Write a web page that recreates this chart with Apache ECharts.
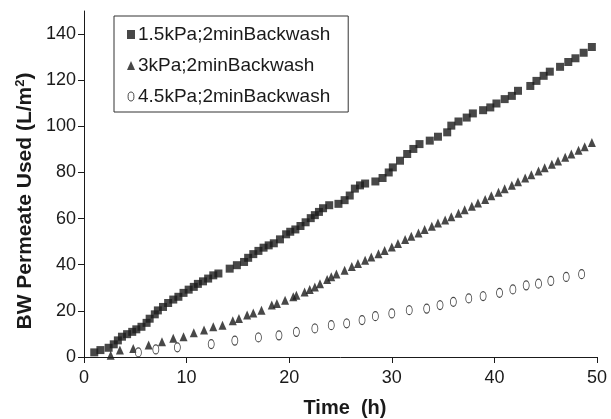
<!DOCTYPE html>
<html>
<head>
<meta charset="utf-8">
<script src="https://cdn.jsdelivr.net/npm/echarts@6/dist/echarts.min.js"></script>
<style>
html,body{margin:0;padding:0;background:#fff;}
#chart{width:611px;height:419px;}
</style>
</head>
<body>
<div id="chart"></div>
<script>
// ---- Data ----
var seriesNames = ['1.5kPa;2minBackwash', '3kPa;2minBackwash', '4.5kPa;2minBackwash'];

var timeSq = [1.0,1.6,2.4,2.9,3.3,3.7,4.2,4.7,5.1,5.6,6.1,6.4,6.9,7.2,7.7,8.2,8.7,9.2,9.7,10.2,10.7,11.1,11.6,12.1,12.6,13.1,14.2,14.9,15.6,16.0,16.5,17.0,17.5,18.0,18.5,19.1,19.7,20.1,20.6,21.1,21.6,22.1,22.5,22.9,23.3,23.9,24.8,25.4,25.9,26.4,26.9,27.4,28.4,29.1,29.7,30.1,30.8,31.5,32.1,32.7,33.7,34.5,35.4,35.8,36.5,37.3,37.9,38.9,39.6,40.2,41.0,41.7,42.3,43.5,44.1,44.8,45.4,46.4,47.2,47.9,48.7,49.5];
var valSq  = [2.0,3.0,4.0,5.5,7.2,8.8,9.9,10.9,12.0,13.1,14.8,16.6,18.5,20.2,21.7,23.4,24.9,26.1,27.8,29.2,30.4,31.7,32.8,34.0,35.4,36.2,38.3,39.8,41.2,43.0,44.6,46.0,47.4,48.4,49.3,51.0,53.2,54.3,55.3,56.8,58.4,60.2,61.5,62.9,64.5,65.8,66.4,68.0,70.0,73.0,74.4,75.2,76.1,77.6,80.0,82.2,85.1,88.0,90.2,92.3,93.8,95.5,97.4,100.3,102.1,103.8,105.6,107.0,108.2,109.9,111.8,113.2,115.4,117.5,119.7,121.9,123.7,125.8,127.9,129.5,131.9,134.4];

var timeTri = [2.6,3.5,4.8,6.3,7.6,8.7,9.7,10.7,11.7,12.6,13.5,14.5,15.1,15.9,16.5,17.3,18.3,18.8,19.6,20.4,20.7,21.5,22.0,22.5,23.0,23.7,24.1,24.6,25.4,26.1,26.7,27.4,28.0,28.7,29.3,30.0,30.6,31.3,31.9,32.6,33.2,33.9,34.5,35.2,35.8,36.5,37.1,37.8,38.4,39.1,39.7,40.4,41.0,41.7,42.3,43.0,43.6,44.3,44.9,45.6,46.2,46.9,47.5,48.2,48.8,49.5];
var valTri  = [0.8,3.0,3.7,5.2,6.6,8.1,8.8,10.5,11.7,13.1,13.8,15.7,16.7,18.2,19.1,20.3,22.5,23.2,24.6,26.1,26.8,28.2,29.3,30.4,31.8,33.6,34.8,36.0,37.6,39.2,40.5,41.9,43.3,44.8,46.2,47.7,49.2,50.9,52.3,53.8,55.3,56.7,58.1,59.4,60.8,62.3,63.8,65.3,66.8,68.3,69.9,71.4,72.9,74.5,76.0,77.6,79.0,80.6,82.0,83.6,85.0,86.6,88.0,89.6,91.2,93.0];

var timeCirc = [5.3,7.0,9.1,12.4,14.7,17.0,19.0,20.7,22.5,24.1,25.6,27.1,28.4,30.0,31.7,33.4,34.7,36.0,37.5,38.9,40.5,41.8,43.1,44.3,45.5,47.0,48.5];
var valCirc  = [2.0,3.3,4.2,5.6,7.1,8.5,9.4,10.9,12.4,13.8,14.6,16.0,17.7,18.9,20.3,21.0,22.5,23.9,25.4,26.4,27.8,29.3,31.1,31.8,33.0,34.7,35.9];

var xTicks = [0, 10, 20, 30, 40, 50];
var yTicks = [0, 20, 40, 60, 80, 100, 120, 140];

function pairs(xs, ys) { return xs.map(function (x, i) { return [x, ys[i]]; }); }

var FONT = 'Liberation Sans, Arial, sans-serif';
var INK = '#1a1a1a';
var ellipse = 'path://M0,-4A2.6,4 0 1,0 0,4A2.6,4 0 1,0 0,-4Z';

var chart = echarts.init(document.getElementById('chart'), null, {renderer: 'canvas'});
chart.setOption({
  animation: false,
  backgroundColor: '#fff',
  grid: {left: 84, right: 14, top: 11, bottom: 62, containLabel: false},
  legend: {
    orient: 'vertical', left: 114, top: 16,
    padding: [9, 18, 6, 13], itemGap: 12,
    itemWidth: 8, itemHeight: 9,
    borderColor: '#333', borderWidth: 1,
    textStyle: {fontFamily: FONT, fontSize: 19, color: INK, padding: [0, 0, 0, -2]},
    data: [
      {name: seriesNames[0], icon: 'rect'},
      {name: seriesNames[1], icon: 'triangle'},
      {name: seriesNames[2], icon: ellipse, itemStyle: {color: '#fff', borderColor: INK, borderWidth: 1}}
    ]
  },
  xAxis: {
    type: 'value', min: 0, max: 50, interval: 10,
    axisLine: {show: true, onZero: false, lineStyle: {color: INK, width: 1}},
    axisTick: {show: true, length: 6, lineStyle: {color: INK}, customValues: xTicks},
    axisLabel: {fontFamily: FONT, fontSize: 18, color: INK, margin: 12, customValues: xTicks},
    splitLine: {show: false}
  },
  yAxis: {
    type: 'value', min: 0, max: 150,
    axisLine: {show: true, onZero: false, lineStyle: {color: INK, width: 1}},
    axisTick: {show: true, length: 6, lineStyle: {color: INK}, customValues: yTicks},
    axisLabel: {fontFamily: FONT, fontSize: 18, color: INK, margin: 8, customValues: yTicks},
    splitLine: {show: false}
  },
  graphic: [
    {
      type: 'text', x: 25, y: 201, rotation: Math.PI / 2,
      style: {
        text: '{b|BW Permeate Used (L/m}{s|2}{b|)}',
        align: 'center', verticalAlign: 'middle',
        rich: {
          b: {fontFamily: FONT, fontSize: 21, fontWeight: 'bold', fill: INK, lineHeight: 24},
          s: {fontFamily: FONT, fontSize: 13, fontWeight: 'bold', fill: INK, lineHeight: 24, padding: [0, 0, 10, 0]}
        }
      }
    },
    {
      type: 'text', x: 345, y: 408,
      style: {
        text: 'Time  (h)', align: 'center', verticalAlign: 'middle',
        fontFamily: FONT, fontSize: 20, fontWeight: 'bold', fill: INK
      }
    }
  ],
  series: [
    {
      name: seriesNames[0], type: 'scatter', symbol: 'rect', symbolSize: 8,
      itemStyle: {color: INK}, data: pairs(timeSq, valSq)
    },
    {
      name: seriesNames[1], type: 'scatter', symbol: 'triangle', symbolSize: [8, 9],
      itemStyle: {color: INK}, data: pairs(timeTri, valTri)
    },
    {
      name: seriesNames[2], type: 'scatter', symbol: ellipse, symbolSize: [6, 9],
      itemStyle: {color: '#fff', borderColor: INK, borderWidth: 1}, data: pairs(timeCirc, valCirc)
    }
  ]
});
</script>
</body>
</html>
